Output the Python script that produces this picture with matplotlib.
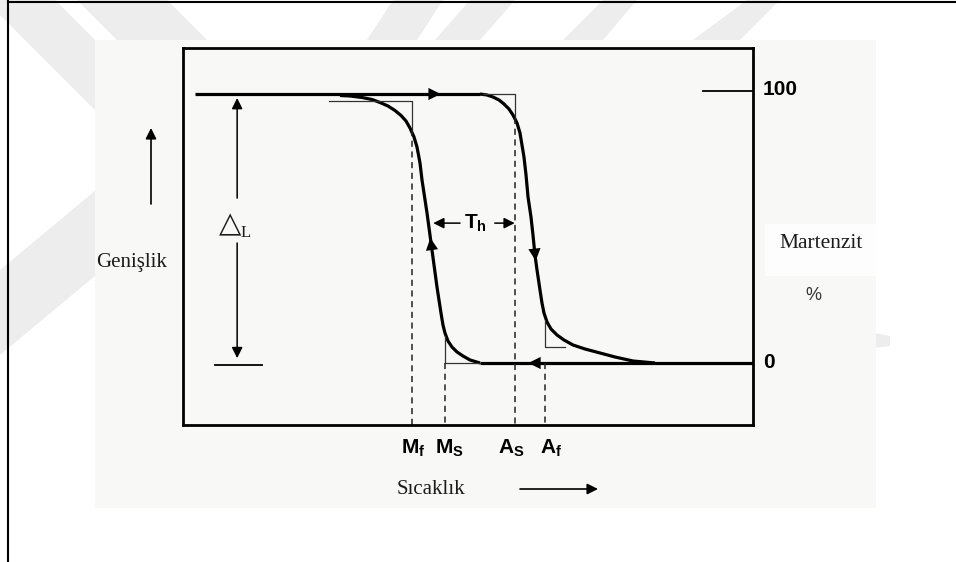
import numpy as np
import matplotlib
matplotlib.use("Agg")
import matplotlib.pyplot as plt
from matplotlib.patches import Polygon, Rectangle

plt.rcParams["mathtext.fontset"] = "custom"
plt.rcParams["mathtext.rm"] = "Liberation Sans"
plt.rcParams["mathtext.bf"] = "Liberation Sans:bold"
plt.rcParams["mathtext.it"] = "Liberation Sans:italic"

# Transformation temperatures (arbitrary temperature units, 0-100 across the box)
Mf, Ms, As, Af = 40.2, 46.0, 58.2, 63.5
temp_labels = [r"$\mathbf{M_f}$", r"$\mathbf{M_S}$", r"$\mathbf{A_S}$", r"$\mathbf{A_f}$"]
temp_values = [Mf, Ms, As, Af]

# Cooling curve (austenite -> martensite), martensite %
cool_T = [27.54, 29.30, 31.40, 33.16, 34.56, 35.96, 37.19, 38.25, 39.12, 39.82, 40.53,
          41.05, 41.58, 41.93, 42.81, 43.68, 44.56, 45.26, 45.61, 45.96, 46.49, 47.19,
          48.07, 49.12, 50.35, 52.11]
cool_M = [99.44, 99.26, 98.70, 97.96, 96.84, 95.54, 93.87, 92.01, 89.96, 87.36, 84.01,
          80.30, 74.35, 68.03, 55.76, 42.01, 28.25, 18.59, 14.13, 11.15, 8.18, 5.95,
          4.09, 2.60, 1.12, 0.0]

# Heating curve (martensite -> austenite), martensite %
heat_T = [52.11, 53.33, 54.39, 55.44, 56.32, 57.19, 57.89, 58.60, 59.12, 59.47, 59.82,
          60.18, 60.53, 61.05, 61.40, 61.75, 62.11, 62.63, 62.98, 63.33, 63.86, 64.56,
          65.61, 66.84, 68.42, 70.53, 73.16, 75.79, 78.95, 82.81]
heat_M = [100.0, 99.63, 98.88, 97.77, 96.28, 94.42, 92.19, 89.22, 85.50, 81.04, 76.58,
          69.89, 61.71, 54.28, 47.58, 40.15, 34.57, 27.14, 22.30, 18.59, 15.24, 12.64,
          10.41, 8.55, 6.69, 5.20, 3.72, 2.23, 0.74, 0.0]

# Idealised (thin) corner lines
cool_top_T, cool_top_M = [25.6, Mf, Mf], [97.5, 97.5, 86.6]
cool_bot_T, cool_bot_M = [Ms, Ms, 52.1], [10.0, 0.0, 0.0]
heat_top_T, heat_top_M = [52.6, As, As], [100.0, 100.0, 91.0]
heat_bot_T, heat_bot_M = [Af, Af, 67.0], [16.0, 6.0, 6.0]

W, H = 956, 562
fig = plt.figure(figsize=(W / 100, H / 100), dpi=100)
fig.patch.set_facecolor("white")

# background layer in pixel coordinates
bg = fig.add_axes([0, 0, 1, 1])
bg.set_xlim(0, W)
bg.set_ylim(H, 0)
bg.axis("off")

stripe = "#ededed"
stripes = [
    [(0, 15), (0, 0), (55, 0), (300, 245), (300, 315)],
    [(77, 0), (167, 0), (207, 40), (117, 40)],
    [(367, 40), (417, 40), (443, 0), (393, 0)],
    [(435, 40), (480, 40), (515, 0), (470, 0)],
    [(563, 40), (603, 40), (637, 0), (603, 0)],
    [(693, 40), (740, 40), (780, 0), (747, 0)],
    [(0, 355), (0, 270), (120, 170), (120, 255)],
    [(860, 330), (890, 336), (890, 346), (860, 350)],
]
for pts in stripes:
    bg.add_patch(Polygon(pts, closed=True, facecolor=stripe, edgecolor="none"))

bg.add_patch(Rectangle((95, 40), 781, 468, facecolor="#f8f8f6", edgecolor="none"))
bg.add_patch(Rectangle((765, 224), 111, 52, facecolor="#fdfdfd", edgecolor="none"))

# outer frame
bg.plot([8, 8], [0, H], color="black", lw=1.5)
bg.plot([8, W], [2, 2], color="black", lw=1.5)

serif = ["Liberation Serif", "DejaVu Serif"]
txt_col = "#1c1c1c"
side_arrow = dict(arrowstyle="-|>", lw=1.2, color="black", mutation_scale=16, shrinkA=0, shrinkB=0)
bg.text(132, 262, "Genişlik", family=serif, fontsize=15, color=txt_col, ha="center", va="center")
bg.annotate("", xy=(151, 128), xytext=(151, 204), arrowprops=side_arrow)
bg.text(821, 243, "Martenzit", family=serif, fontsize=15.5, color=txt_col, ha="center", va="center")
bg.text(813, 295, "%", family="Liberation Sans", fontsize=13, color="#333333", ha="center", va="center")
bg.text(431, 490, "Sıcaklık", family=serif, fontsize=15, color=txt_col, ha="center", va="center")
bg.annotate("", xy=(598, 489), xytext=(520, 489), arrowprops=side_arrow)

# main diagram box
ax = fig.add_axes([183 / W, 1 - 425 / H, 570 / W, 377 / H])
ax.set_xlim(0, 100)
ax.set_ylim(-23.05, 117.1)
ax.set_facecolor("none")
ax.set_xticks([])
ax.set_yticks([])
for s in ax.spines.values():
    s.set_linewidth(2.0)

thick = dict(color="black", lw=2.3, solid_capstyle="butt", solid_joinstyle="round")
thin = dict(color="#333333", lw=0.9)
dash = dict(color="#222222", lw=1.1, linestyle=(0, (4, 3)))

ax.plot([2.1, heat_T[0]], [100, 100], **thick)
ax.plot(cool_T, cool_M, **thick)
ax.plot(heat_T, heat_M, **thick)
ax.plot([cool_T[-1], 100], [0, 0], **thick)

ax.plot(cool_top_T, cool_top_M, **thin)
ax.plot(cool_bot_T, cool_bot_M, **thin)
ax.plot(heat_top_T, heat_top_M, **thin)
ax.plot(heat_bot_T, heat_bot_M, **thin)

ax.plot([Mf, Mf], [86.6, -23.05], **dash)
ax.plot([Ms, Ms], [0, -23.05], **dash)
ax.plot([As, As], [91.0, -23.05], **dash)
ax.plot([Af, Af], [0, -23.05], **dash)

head = dict(arrowstyle="-|>", lw=0, color="black", mutation_scale=22, shrinkA=0, shrinkB=0)


def curve_x(T, M, y):
    return np.interp(y, M[::-1], T[::-1])


# direction arrows on the loop
ax.annotate("", xy=(45.2, 100), xytext=(41.5, 100), arrowprops=head)
ax.annotate("", xy=(60.6, 0), xytext=(64.5, 0), arrowprops=head)
y_up0, y_up1 = 37.0, 46.5
ax.annotate("", xy=(curve_x(cool_T, cool_M, y_up1), y_up1),
            xytext=(curve_x(cool_T, cool_M, y_up0), y_up0), arrowprops=head)
y_dn0, y_dn1 = 47.5, 38.0
ax.annotate("", xy=(curve_x(heat_T, heat_M, y_dn1), y_dn1),
            xytext=(curve_x(heat_T, heat_M, y_dn0), y_dn0), arrowprops=head)

# 100 % marker and right-hand labels
ax.plot([91.2, 100], [101, 101], color="black", lw=1.3)
lab = dict(family="Liberation Sans", fontweight="bold", fontsize=15, va="center", ha="left",
           clip_on=False)
ax.text(101.75, 101.5, "100", **lab)
ax.text(101.75, 0, "0", **lab)

# Delta L dimension arrow
line_arrow = dict(arrowstyle="-|>", lw=1.1, color="black", mutation_scale=16, shrinkA=0, shrinkB=0)
ax.annotate("", xy=(9.5, 98.5), xytext=(9.5, 61.3), arrowprops=line_arrow)
ax.annotate("", xy=(9.5, 1.8), xytext=(9.5, 44.6), arrowprops=line_arrow)
ax.plot([5.6, 13.9], [-0.6, -0.6], color="black", lw=1.3)
ax.text(8.3, 51.5, "△", family=["DejaVu Sans"], fontsize=21, ha="center", va="center", color=txt_col)
ax.text(10.1, 48.5, "L", family=serif, fontsize=12, ha="left", va="center", color=txt_col)

# hysteresis width T_h
ax.annotate("", xy=(43.9, 52.0), xytext=(48.6, 52.0), arrowprops=line_arrow)
ax.annotate("", xy=(As, 52.0), xytext=(54.7, 52.0), arrowprops=line_arrow)
ax.text(51.3, 52.0, r"$\mathbf{T_h}$", fontsize=15, ha="center", va="center")

# transformation temperature labels
label_shift = [0.2, 0.7, -0.7, 1.0]
for t, s, d in zip(temp_values, temp_labels, label_shift):
    ax.text(t + d, -31.6, s, fontsize=15, ha="center", va="center", clip_on=False)

fig.savefig("out.png", dpi=100, facecolor="white")
